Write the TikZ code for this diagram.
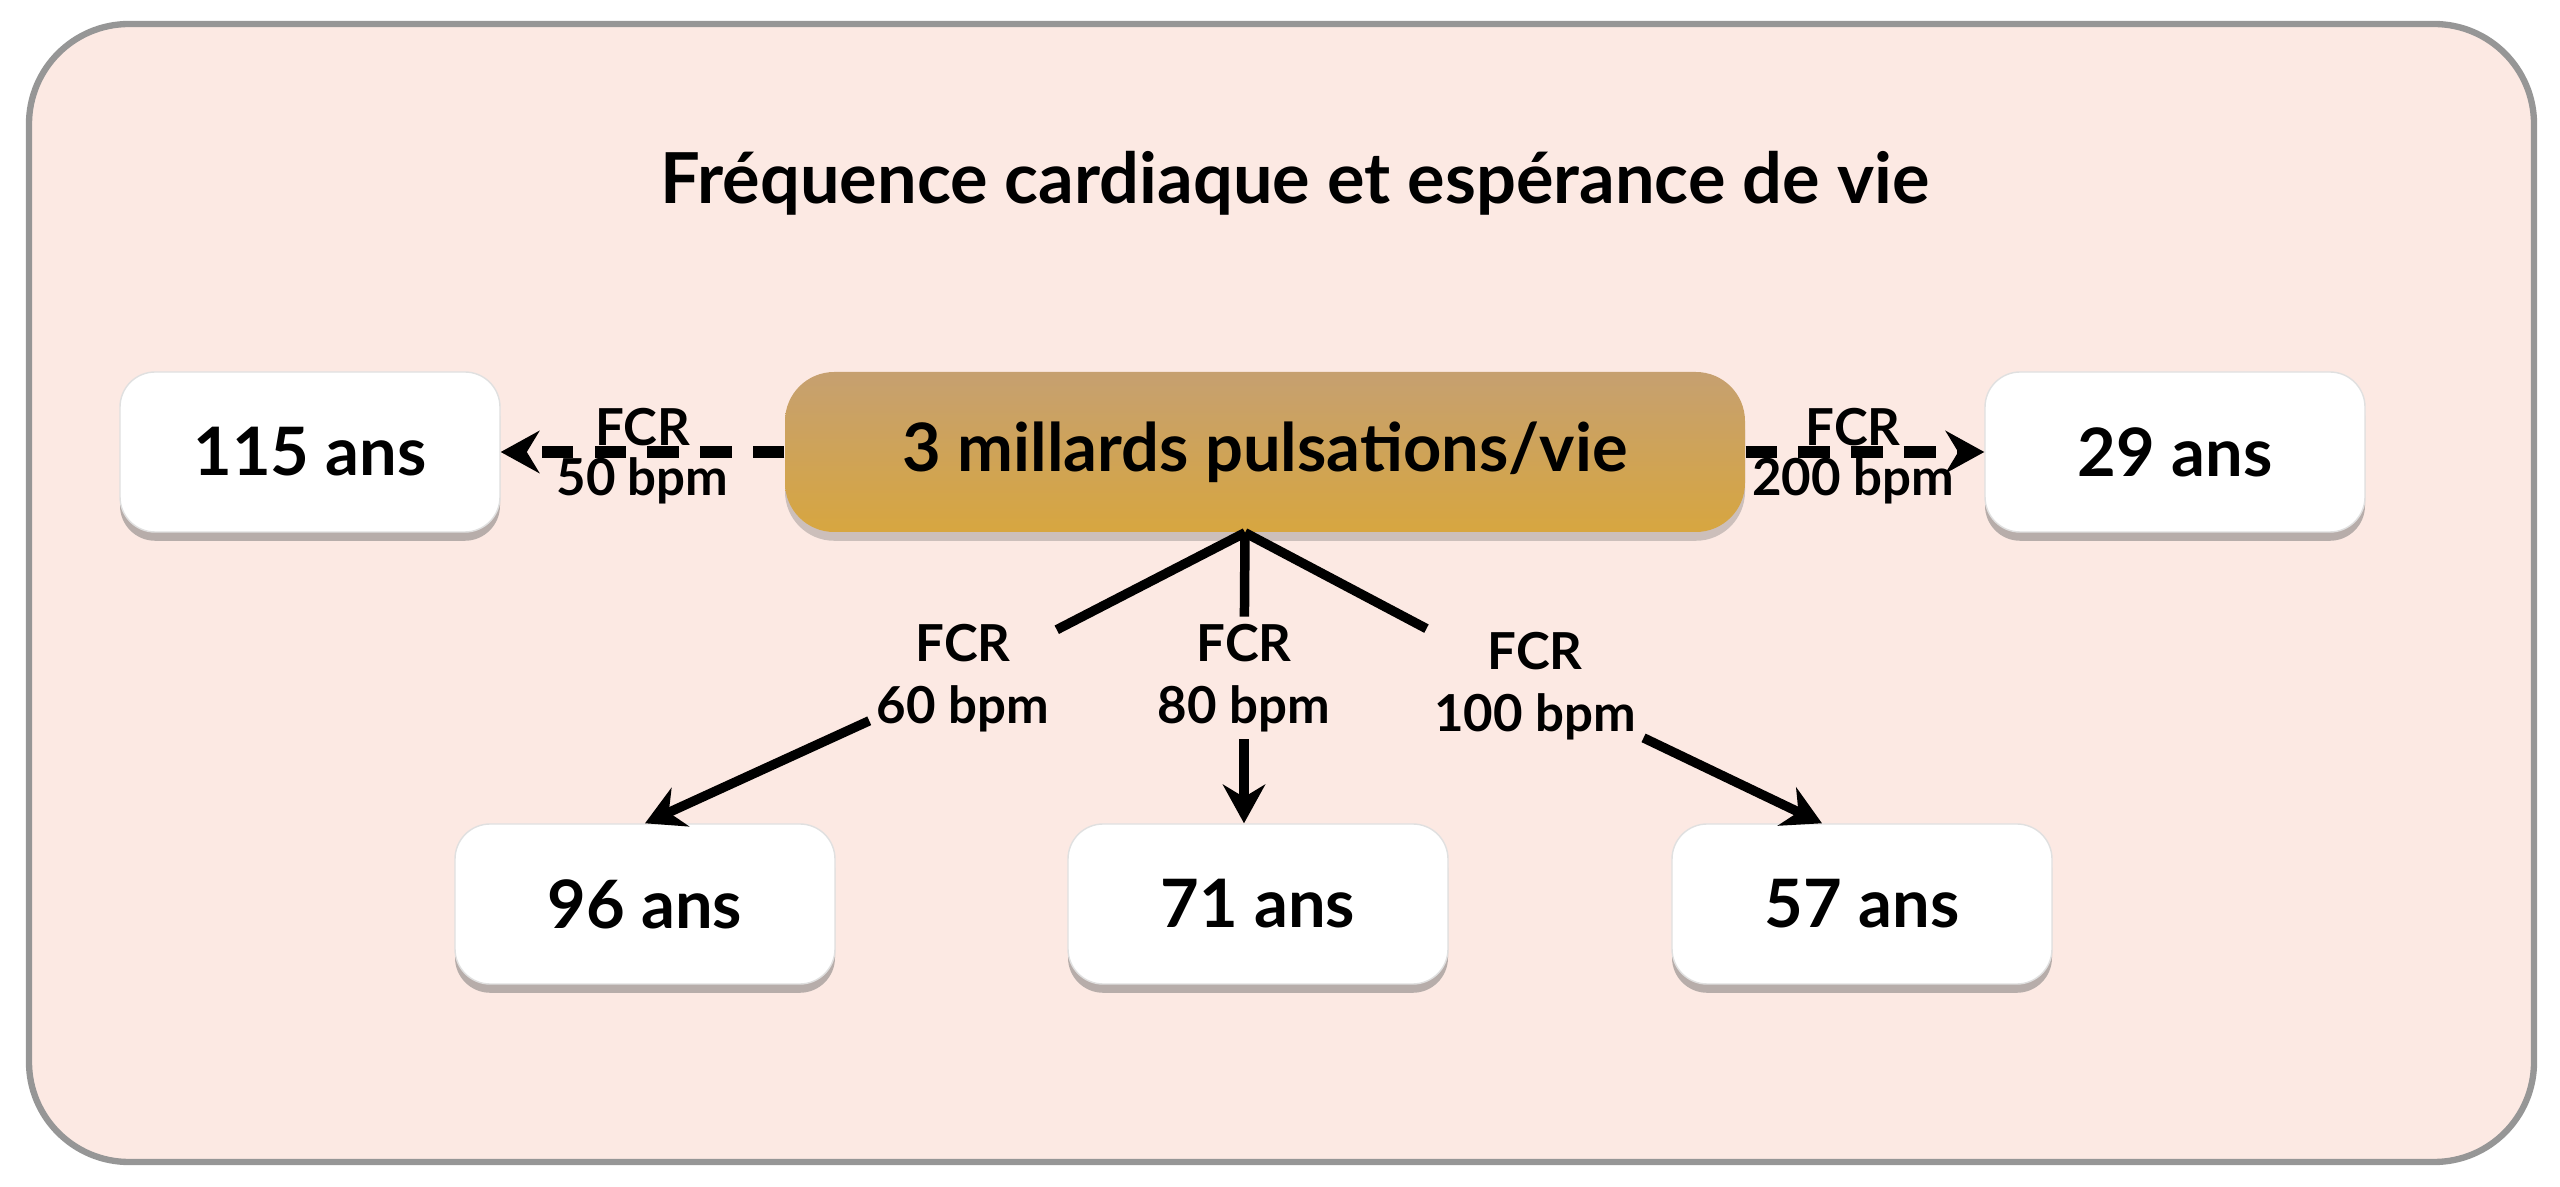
\documentclass[tikz,border=0pt]{standalone}
\usepackage{fontspec}
\setmainfont{Lato}
\usetikzlibrary{arrows.meta, positioning, shadows}

\definecolor{bgpink}{RGB}{252,233,227}
\definecolor{framegray}{RGB}{150,150,150}
\definecolor{goldtop}{RGB}{198,160,112}
\definecolor{goldbot}{RGB}{215,166,64}

\begin{document}
\begin{tikzpicture}[
  agebox/.style={rectangle, rounded corners=10pt, fill=white, draw=black!12,
    minimum width=3.8cm, minimum height=1.6cm, font=\fontsize{19}{22}\selectfont\bfseries,
    drop shadow={shadow xshift=0pt, shadow yshift=-2.5pt, opacity=0.5, fill=black!55}},
  pulsebox/.style={rectangle, rounded corners=14pt, top color=goldtop, bottom color=goldbot,
    minimum width=9.6cm, minimum height=1.6cm, font=\fontsize{19}{22}\selectfont\bfseries,
    drop shadow={shadow xshift=0pt, shadow yshift=-2.5pt, opacity=0.35, fill=black!55}},
  fcr/.style={align=center, font=\fontsize{14.5}{17.5}\selectfont\bfseries, inner sep=2pt},
  link/.style={line width=2.7pt},
  dashlink/.style={line width=3.2pt, dash pattern=on 9pt off 6pt},
  tip/.style={-{Stealth[length=11pt,width=12pt]}}
]
\useasboundingbox (0,0) rectangle (25.6,11.86);
\draw[framegray, line width=1.8pt, fill=bgpink, rounded corners=1cm] (0.29,0.24) rectangle (25.34,11.62);

\node[font=\fontsize{20}{24}\selectfont\bfseries] (title) at (12.95,10.03) {Fréquence cardiaque et espérance de vie};

% ligne du haut
\node[pulsebox] (pulse) at (12.65,7.34) {3 millards pulsations/vie};
\node[agebox] (a115) at (3.10,7.34) {115 ans};
\node[agebox] (a29) at (21.75,7.34) {29 ans};

% ligne du bas
\node[agebox] (a96) at (6.45,2.82) {96 ans};
\node[agebox] (a71) at (12.58,2.82) {71 ans};
\node[agebox] (a57) at (18.62,2.82) {57 ans};

\coordinate (fork) at ([xshift=-0.2cm]pulse.south);
\node[fcr] (f60) at (9.63,5.08) {FCR\\60 bpm};
\node[fcr] (f80) at (12.44,5.08) {FCR\\80 bpm};
\node[fcr] (f100) at (15.35,5.0) {FCR\\100 bpm};

\draw[dashlink, tip] (pulse) -- (a115)
  node[pos=0.5, above, fcr, inner sep=0pt] {FCR}
  node[pos=0.5, below, fcr, inner sep=0pt] {50 bpm};
\draw[dashlink, tip] (pulse) -- (a29)
  node[pos=0.45, above, fcr, inner sep=0pt] {FCR}
  node[pos=0.45, below, fcr, inner sep=0pt] {200 bpm};

\draw[link] (fork) -- (f60);
\draw[link] (fork) -- (f80);
\draw[link] (fork) -- (f100);
\draw[link, tip] (f60) -- (a96.north);
\draw[link, tip] (f80) -- (f80 |- a71.north);
\draw[link, tip] (f100) -- ([xshift=-0.4cm]a57.north);
\end{tikzpicture}
\end{document}
